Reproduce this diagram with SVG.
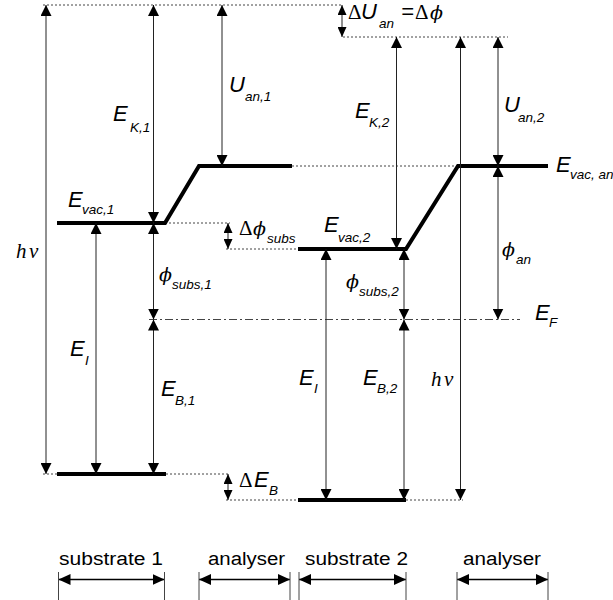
<svg xmlns="http://www.w3.org/2000/svg" width="613" height="600" viewBox="0 0 613 600">
<style>
.lvl{stroke:#000;stroke-width:4;fill:none;stroke-linecap:butt}
.dot{stroke:#444;stroke-width:1;stroke-dasharray:2,2;fill:none}
.dd{stroke:#444;stroke-width:1;stroke-dasharray:8,3,2,3;fill:none}
.ar{stroke:#222;stroke-width:1;fill:none;marker-start:url(#ah);marker-end:url(#ah)}
.ars{stroke:#222;stroke-width:1;fill:none;marker-start:url(#as);marker-end:url(#as)}
.arb{stroke:#000;stroke-width:1.5;fill:none;marker-start:url(#ab);marker-end:url(#ab)}
.tick{stroke:#444;stroke-width:1}
.big{font-family:"Liberation Sans",Arial,sans-serif;font-style:italic;font-size:22px}
.sub{font-family:"Liberation Sans",Arial,sans-serif;font-style:italic;font-size:13.5px}
.gr{font-family:"Liberation Serif","Times New Roman",serif;font-style:italic;font-size:21px}
.ph{font-family:"DejaVu Serif",serif;font-style:italic;font-size:19px}
.gu{font-family:"Liberation Serif","Times New Roman",serif;font-size:21px}
.lab{font-family:"Liberation Sans",Arial,sans-serif;font-size:18px}
</style>
<defs>
<marker id="ah" markerUnits="userSpaceOnUse" markerWidth="11" markerHeight="11" refX="11" refY="5.5" orient="auto-start-reverse"><path d="M0,0 L11,5.5 L0,11 z" fill="#000"/></marker>
<marker id="as" markerUnits="userSpaceOnUse" markerWidth="10" markerHeight="9" refX="10" refY="4.5" orient="auto-start-reverse"><path d="M0,0 L10,4.5 L0,9 z" fill="#000"/></marker>
<marker id="ab" markerUnits="userSpaceOnUse" markerWidth="12" markerHeight="11" refX="12" refY="5.5" orient="auto-start-reverse"><path d="M0,0 L12,5.5 L0,11 z" fill="#000"/></marker>
</defs>

<g id="guides">
<path class="dot" d="M43,5 H343 M343,37 H508 M292,166 H458 M165,223 H230 M226,249 H298 M43,474 H57 M166,474 H230 M226,500 H298 M406,500 H463"/>
<path class="dd" d="M149,319.5 H520"/>
</g>

<g id="levels">
<path id="level-sub1-vac" class="lvl" d="M57,223 H165 L199,166 H292"/>
<path id="level-sub2-vac" class="lvl" d="M298,249 H406 L458,166 H548"/>
<path id="level-sub1-core" class="lvl" d="M57,474 H166"/>
<path id="level-sub2-core" class="lvl" d="M298,500 H406"/>
</g>

<g id="connectors">
<line class="ar" x1="46" y1="5" x2="46" y2="474"/>
<line class="ar" x1="153.5" y1="5" x2="153.5" y2="223"/>
<line class="ar" x1="222" y1="5" x2="222" y2="166"/>
<line class="ar" x1="96" y1="223" x2="96" y2="474"/>
<line class="ar" x1="153.5" y1="223" x2="153.5" y2="319.5"/>
<line class="ar" x1="153.5" y1="319.5" x2="153.5" y2="474"/>
<line class="ars" x1="228" y1="223" x2="228" y2="249"/>
<line class="ars" x1="228" y1="474" x2="228" y2="500"/>
<line class="ars" x1="342" y1="5" x2="342" y2="37"/>
<line class="ar" x1="396.5" y1="37" x2="396.5" y2="249"/>
<line class="ar" x1="404" y1="249" x2="404" y2="319.5"/>
<line class="ar" x1="404" y1="319.5" x2="404" y2="500"/>
<line class="ar" x1="326" y1="249" x2="326" y2="500"/>
<line class="ar" x1="460.5" y1="37" x2="460.5" y2="500"/>
<line class="ar" x1="498" y1="37" x2="498" y2="166"/>
<line class="ar" x1="498" y1="166" x2="498" y2="319.5"/>
<line class="arb" x1="58.5" y1="579.5" x2="164.5" y2="579.5"/>
<line class="arb" x1="199" y1="579.5" x2="290" y2="579.5"/>
<line class="arb" x1="299" y1="579.5" x2="406" y2="579.5"/>
<line class="arb" x1="457" y1="579.5" x2="548" y2="579.5"/>
<path class="tick" d="M58.5,572 V600 M164.5,572 V600 M199,572 V600 M290,572 V600 M299,572 V600 M406,572 V600 M457,572 V600 M548,572 V600"/>
</g>

<g id="labels">
<text class="gr" x="16" y="258">h</text><text class="gr" x="29" y="258">ν</text>
<text class="big" x="113" y="121">E</text><text class="sub" x="130" y="132">K,1</text>
<text class="big" x="229" y="92">U</text><text class="sub" x="245" y="101">an,1</text>
<text class="big" x="68" y="207">E</text><text class="sub" x="82" y="214">vac,1</text>
<text class="gu" x="239" y="235">Δ</text><text class="ph" x="253" y="235">ϕ</text><text class="sub" x="267" y="243">subs</text>
<text class="ph" x="159" y="281">ϕ</text><text class="sub" x="172" y="289">subs,1</text>
<text class="big" x="70" y="356">E</text><text class="sub" x="85" y="365">I</text>
<text class="big" x="161" y="396">E</text><text class="sub" x="175" y="405">B,1</text>
<text class="gu" x="239" y="487">Δ</text><text class="big" x="254" y="487">E</text><text class="sub" x="269" y="495">B</text>
<text class="gu" x="348" y="19">Δ</text><text class="big" x="361" y="19">U</text><text class="sub" x="379" y="28">an</text><text class="big" x="401" y="19">=</text><text class="gu" x="415" y="19">Δ</text><text class="ph" x="430" y="19">ϕ</text>
<text class="big" x="355" y="118">E</text><text class="sub" x="369" y="127">K,2</text>
<text class="big" x="504" y="112">U</text><text class="sub" x="518" y="122">an,2</text>
<text class="big" x="556" y="172">E</text><text class="sub" x="570" y="179">vac, an</text>
<text class="big" x="324" y="232">E</text><text class="sub" x="338" y="242">vac,2</text>
<text class="ph" x="346" y="288">ϕ</text><text class="sub" x="359" y="296">subs,2</text>
<text class="ph" x="502" y="256">ϕ</text><text class="sub" x="516" y="264">an</text>
<text class="big" x="535" y="320">E</text><text class="sub" x="549" y="327">F</text>
<text class="big" x="299" y="385">E</text><text class="sub" x="314" y="393">I</text>
<text class="big" x="363" y="385">E</text><text class="sub" x="377" y="393">B,2</text>
<text class="gr" x="431" y="386">h</text><text class="gr" x="444" y="386">ν</text>
<text class="lab" x="59" y="565" textLength="104" lengthAdjust="spacingAndGlyphs">substrate 1</text>
<text class="lab" x="208" y="565" textLength="77" lengthAdjust="spacingAndGlyphs">analyser</text>
<text class="lab" x="305" y="565" textLength="103" lengthAdjust="spacingAndGlyphs">substrate 2</text>
<text class="lab" x="463" y="565" textLength="78" lengthAdjust="spacingAndGlyphs">analyser</text>
</g>
</svg>
